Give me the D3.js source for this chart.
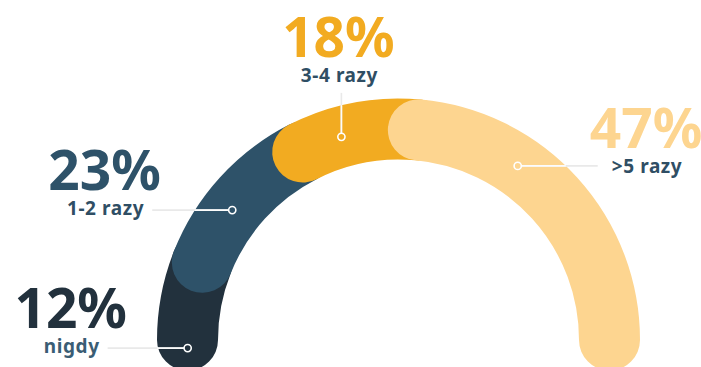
<!DOCTYPE html>
<html>
<head>
<meta charset="utf-8">
<script src="https://cdn.jsdelivr.net/npm/d3@7"></script>
<style>
  body { margin: 0; background: #fff; }
  svg { display: block; font-family: "Noto Sans", sans-serif; }
</style>
</head>
<body>
<div id="chart"></div>
<script>
// data
const categories = ["nigdy", "1-2 razy", "3-4 razy", ">5 razy"];
const values = [12, 23, 18, 47];
const valueLabels = ["12%", "23%", "18%", "47%"];

// styling / label placement
const colors = ["#22313d", "#2e5269", "#f2ab21", "#fdd590"];
const labelColors = ["#3a5d74", "#2f4e64", "#2f4e64", "#2f4e64"];
const labelAngles = [-92.2, -52, -15.7, 34.4]; // where the dot sits, degrees from top
const leaderDirs = ["left", "left", "up", "right"];

const width = 701;
const height = 367;
const cx = 398.5, cy = 340;
const radius = 211;     // middle of the band
const band = 61;        // band thickness
const outerR = radius + band / 2;

const svg = d3.select("#chart")
  .append("svg")
  .attr("width", width)
  .attr("height", height);

const pie = d3.pie()
  .sort(null)
  .startAngle(-Math.PI / 2)
  .endAngle(Math.PI / 2);

const arcs = pie(values);

// arc segments, each drawn as a thick stroke with round caps
svg.selectAll("path.seg")
  .data(arcs)
  .join("path")
  .attr("class", "seg")
  .attr("d", d => {
    const p = d3.path();
    p.arc(cx, cy, radius, d.startAngle - Math.PI / 2, d.endAngle - Math.PI / 2);
    return p.toString();
  })
  .attr("fill", "none")
  .attr("stroke", (d, i) => colors[i])
  .attr("stroke-width", band)
  .attr("stroke-linecap", "round");

// leader lines, dots and labels
const lineLen = 80, upLen = 44;

arcs.forEach((d, i) => {
  const a = labelAngles[i] * Math.PI / 180;
  const dx = cx + radius * Math.sin(a);
  const dy = cy - radius * Math.cos(a);
  const dir = leaderDirs[i];
  const g = svg.append("g");

  let ex = dx, ey = dy, edgeX = dx, edgeY = dy;
  if (dir === "left") {
    ex = dx - lineLen;
    edgeX = cx - Math.sqrt(outerR * outerR - (dy - cy) * (dy - cy));
  } else if (dir === "right") {
    ex = dx + lineLen;
    edgeX = cx + Math.sqrt(outerR * outerR - (dy - cy) * (dy - cy));
  } else {
    ey = dy - upLen;
    edgeY = cy - Math.sqrt(outerR * outerR - (dx - cx) * (dx - cx));
  }

  g.append("line")
    .attr("x1", ex).attr("y1", ey)
    .attr("x2", dx).attr("y2", dy)
    .attr("stroke", "#e9e9e9")
    .attr("stroke-width", 1.6);

  g.append("line")
    .attr("x1", edgeX).attr("y1", edgeY)
    .attr("x2", dx).attr("y2", dy)
    .attr("stroke", "#fff")
    .attr("stroke-opacity", 0.85)
    .attr("stroke-width", 1.6);

  g.append("circle")
    .attr("cx", dx).attr("cy", dy)
    .attr("r", 3.6)
    .attr("fill", colors[i])
    .attr("stroke", "#fff")
    .attr("stroke-width", 1.6);

  const label = g.append("text")
    .attr("font-size", 19)
    .attr("font-weight", 700)
    .attr("letter-spacing", 0.6)
    .attr("fill", labelColors[i])
    .text(categories[i]);

  const w = label.node().getComputedTextLength();
  let lx, ly;
  if (dir === "left") {
    lx = ex - 8 - w / 2;
    ly = ey + 5;
  } else if (dir === "right") {
    lx = ex + 14 + w / 2;
    ly = ey + 7;
  } else {
    lx = dx - 2;
    ly = ey - 11;
  }
  label.attr("x", lx).attr("y", ly).attr("text-anchor", "middle");

  g.append("text")
    .attr("x", lx - 1)
    .attr("y", ly - 25)
    .attr("text-anchor", "middle")
    .attr("font-size", 55)
    .attr("font-weight", 700)
    .attr("fill", colors[i])
    .text(valueLabels[i]);
});
</script>
</body>
</html>
